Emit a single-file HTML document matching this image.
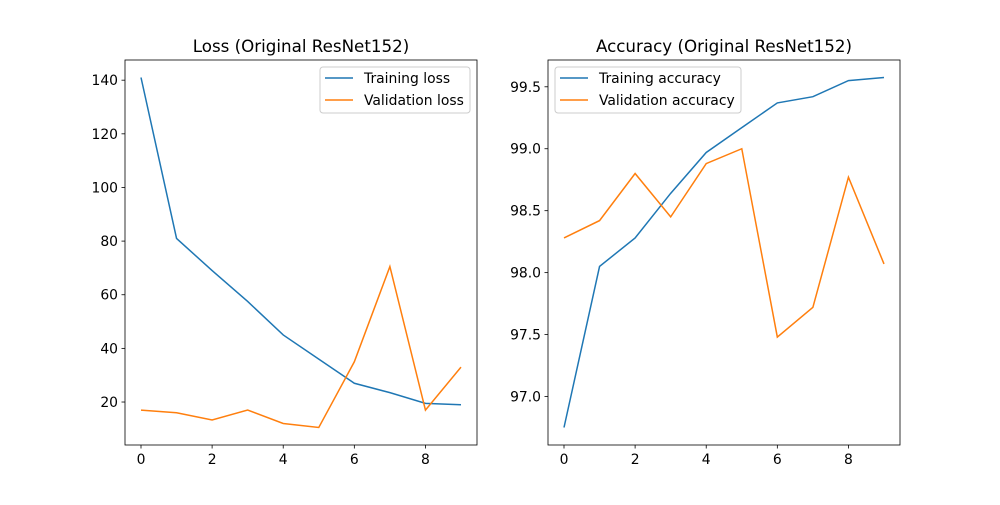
<!DOCTYPE html>
<html><head><meta charset="utf-8"><style>
body{margin:0;background:#fff;font-family:"Liberation Sans","DejaVu Sans",sans-serif;}
svg text{font-family:"DejaVu Sans","Liberation Sans",sans-serif;}
</style></head><body>
<svg id="fig" width="1000" height="500" xmlns="http://www.w3.org/2000/svg"></svg>
<script>
const epochs=[0,1,2,3,4,5,6,7,8,9];
const trainLoss=[141,81,69,57.5,45,36,27,23.5,19.5,19];
const valLoss=[17,16,13.3,17,12,10.5,35,70.5,17,33];
const trainAcc=[96.75,98.05,98.28,98.64,98.97,99.17,99.37,99.42,99.55,99.575];
const valAcc=[98.28,98.42,98.80,98.45,98.88,99.00,97.48,97.72,98.77,98.07];
const xTicks=[0,2,4,6,8];
const lossTicks=[20,40,60,80,100,120,140];
const accTicks=[97.0,97.5,98.0,98.5,99.0,99.5];
const NS="http://www.w3.org/2000/svg";
const svg=document.getElementById('fig');
function mk(t,a,p){const e=document.createElementNS(NS,t);for(const k in a)e.setAttribute(k,a[k]);(p||svg).appendChild(e);return e;}
function panel(L,title,s1,s2,n1,n2,yt,fmt,legX,legW,prefix){
 const T=60,B=445,R=L+352;
 const g=mk('g',{});
 
 
 const all=s1.concat(s2);let mn=Math.min(...all),mx=Math.max(...all),m=(mx-mn)*0.05;mn-=m;mx+=m;
 const xs=v=>L+(v+0.45)/9.9*352;
 const ys=v=>B-(v-mn)/(mx-mn)*(B-T);
 const colors=['#1f77b4','#ff7f0e'];
 [s1,s2].forEach((s,i)=>{
  const p=mk('polyline',{points:s.map((v,j)=>xs(epochs[j])+','+ys(v)).join(' '),fill:'none',stroke:colors[i],'stroke-width':1.5},g);
  
  
 });
 const fr=mk('rect',{x:L,y:T,width:352,height:B-T,fill:'none',stroke:'#000','stroke-width':0.8},g);
 
 
 xTicks.forEach(v=>{const x=xs(v);mk('line',{x1:x,x2:x,y1:B,y2:B+3.5,stroke:'#000','stroke-width':0.8},g);
  const t=mk('text',{x:x,y:B+19,'font-size':13.9,'text-anchor':'middle'},g);t.textContent=v;
  });
 yt.forEach(v=>{const y=ys(v);mk('line',{x1:L-3.5,x2:L,y1:y,y2:y,stroke:'#000','stroke-width':0.8},g);
  const t=mk('text',{x:L-7,y:y+5,'font-size':13.9,'text-anchor':'end'},g);t.textContent=fmt(v);
  });
 const tt=mk('text',{x:L+176,y:52,'font-size':16.7,'text-anchor':'middle'},g);tt.textContent=title;
 
 const lg=mk('g',{},g);
 
 
 mk('rect',{x:legX,y:67,width:legW,height:46,rx:3,fill:'#fff','fill-opacity':0.8,stroke:'#ccc','stroke-width':1},lg);
 [n1,n2].forEach((n,i)=>{const y=78+i*22;mk('line',{x1:legX+5,x2:legX+33,y1:y,y2:y,stroke:colors[i],'stroke-width':1.5},lg);
  const t=mk('text',{x:legX+44,y:y+5,'font-size':13.9},lg);t.textContent=n;
  });
}
panel(125,'Loss (Original ResNet152)',trainLoss,valLoss,'Training loss','Validation loss',lossTicks,v=>v,320,150,'loss');
panel(548,'Accuracy (Original ResNet152)',trainAcc,valAcc,'Training accuracy','Validation accuracy',accTicks,v=>v.toFixed(1),555,186,'accuracy');
</script>
</body></html>
